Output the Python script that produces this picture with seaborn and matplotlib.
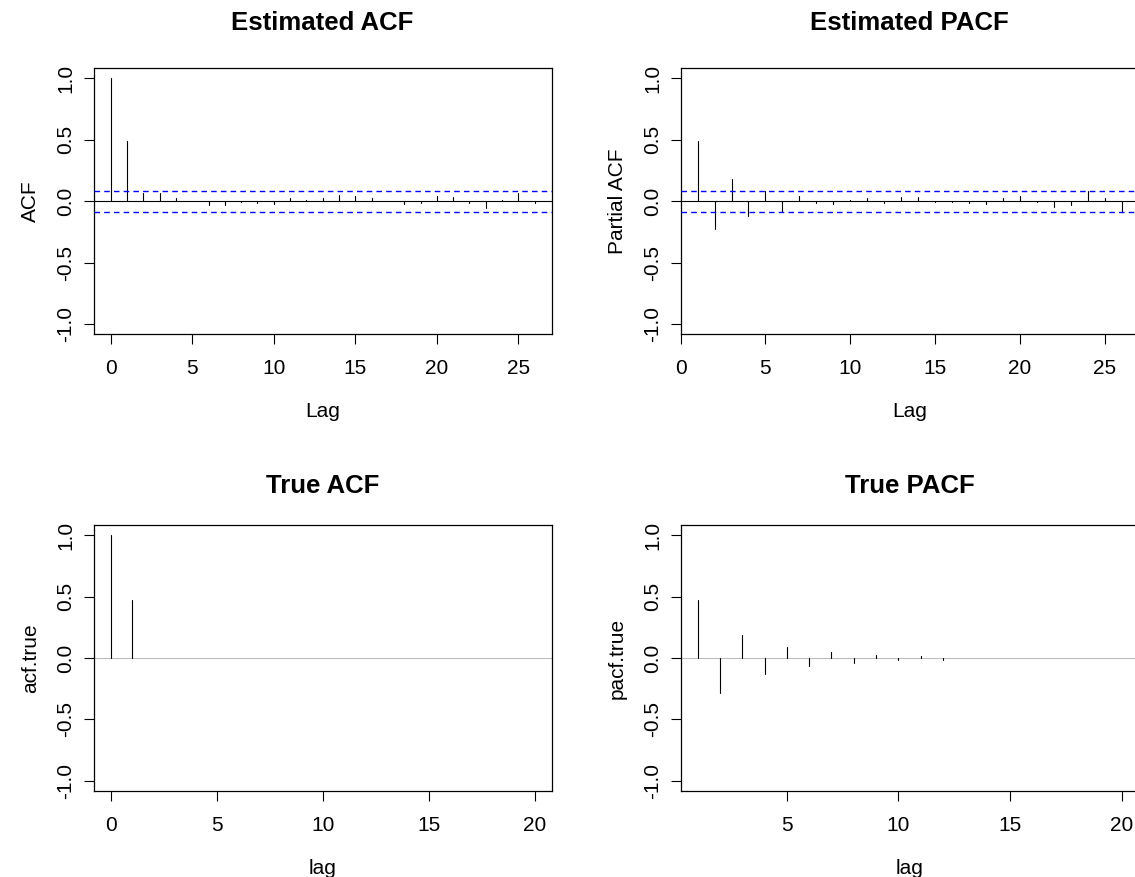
import numpy as np
import pandas as pd
import matplotlib
matplotlib.use("Agg")
import matplotlib.pyplot as plt
import seaborn as sns

# estimated ACF, lags 0..26
est_acf_lags = list(range(0, 27))
est_acf = [1.0, 0.49, 0.068, 0.068, 0.024, 0.005, -0.032, -0.032, -0.008, -0.013,
           -0.024, 0.024, 0.010, 0.024, 0.054, 0.046, 0.024, 0.005, -0.020, -0.013,
           0.046, 0.038, -0.013, -0.054, 0.013, 0.065, -0.016]

# estimated PACF, lags 1..26
est_pacf_lags = list(range(1, 27))
est_pacf = [0.49, -0.224, 0.184, -0.119, 0.084, -0.089, 0.046, -0.013, -0.024, 0.013,
            0.027, -0.013, 0.038, 0.038, -0.005, -0.005, -0.013, -0.020, 0.027, 0.046,
            -0.008, -0.043, -0.032, 0.084, 0.027, -0.076]

conf_bound = 0.084

# true ACF, lags 0..20
true_acf_lags = list(range(0, 21))
true_acf = [1.0, 0.469] + [0.0] * 19

# true PACF, lags 1..20
true_pacf_lags = list(range(1, 21))
true_pacf = [0.469, -0.288, 0.191, -0.132, 0.089, -0.067, 0.046, -0.038, 0.024, -0.013,
             0.013, -0.016, 0.0, 0.0, 0.0, 0.0, 0.0, 0.0, 0.0, 0.0]

sns.set_style("ticks")
plt.rcParams["font.family"] = ["Liberation Sans", "DejaVu Sans"]
plt.rcParams["text.color"] = "black"
plt.rcParams["axes.labelcolor"] = "black"


def spikes(lags, vals):
    rows = []
    for l, v in zip(lags, vals):
        rows.append({"lag": l, "value": 0.0})
        rows.append({"lag": l, "value": v})
    return pd.DataFrame(rows)


def spike_panel(ax, lags, vals, title, xlabel, ylabel, xlim, xticks,
                zero_color="black", bounds=None, title_pad=28):
    df = spikes(lags, vals)
    sns.lineplot(data=df, x="lag", y="value", units="lag", estimator=None,
                 sort=False, color="black", linewidth=0.8, ax=ax)
    ax.axhline(0, color=zero_color, linewidth=0.8, zorder=1)
    if bounds is not None:
        ax.axhline(bounds, color="#0000FF", linewidth=1.0, linestyle=(0, (4, 3)), zorder=3)
        ax.axhline(-bounds, color="#0000FF", linewidth=1.0, linestyle=(0, (4, 3)), zorder=3)
    ax.set_xlim(*xlim)
    ax.set_ylim(-1.08, 1.08)
    ax.set_xticks(xticks)
    ax.set_yticks([-1.0, -0.5, 0.0, 0.5, 1.0])
    ax.set_yticklabels(["-1.0", "-0.5", "0.0", "0.5", "1.0"])
    ax.tick_params(axis="both", direction="out", length=7.2, width=0.8,
                   colors="black", labelsize=15)
    ax.tick_params(axis="x", pad=11)
    ax.tick_params(axis="y", pad=6, labelrotation=90)
    for t in ax.get_yticklabels():
        t.set_va("center")
    for s in ax.spines.values():
        s.set_visible(True)
        s.set_color("black")
        s.set_linewidth(0.9)
    ax.set_title(title, fontsize=18.5, fontweight="bold", pad=title_pad)
    ax.set_xlabel(xlabel, fontsize=15, labelpad=17)
    ax.set_ylabel(ylabel, fontsize=15, labelpad=12)


fig = plt.figure(figsize=(11.35, 8.77), dpi=100)
ax1 = fig.add_axes([0.0826, 0.6191, 0.4034, 0.3028])
ax2 = fig.add_axes([0.5997, 0.6191, 0.4034, 0.3028])
ax3 = fig.add_axes([0.0826, 0.0984, 0.4034, 0.3026])
ax4 = fig.add_axes([0.5997, 0.0984, 0.4034, 0.3026])

spike_panel(ax1, est_acf_lags, est_acf, "Estimated ACF", "Lag", "ACF",
            (-1.04, 27.04), [0, 5, 10, 15, 20, 25], bounds=conf_bound)
spike_panel(ax2, est_pacf_lags, est_pacf, "Estimated PACF", "Lag", "Partial ACF",
            (0, 27), [0, 5, 10, 15, 20, 25], bounds=conf_bound)
spike_panel(ax3, true_acf_lags, true_acf, "True ACF", "lag", "acf.true",
            (-0.8, 20.8), [0, 5, 10, 15, 20], zero_color="#BEBEBE", title_pad=23.5)
spike_panel(ax4, true_pacf_lags, true_pacf, "True PACF", "lag", "pacf.true",
            (0.24, 20.76), [5, 10, 15, 20], zero_color="#BEBEBE", title_pad=23.5)

fig.savefig("out.png", dpi=100)
